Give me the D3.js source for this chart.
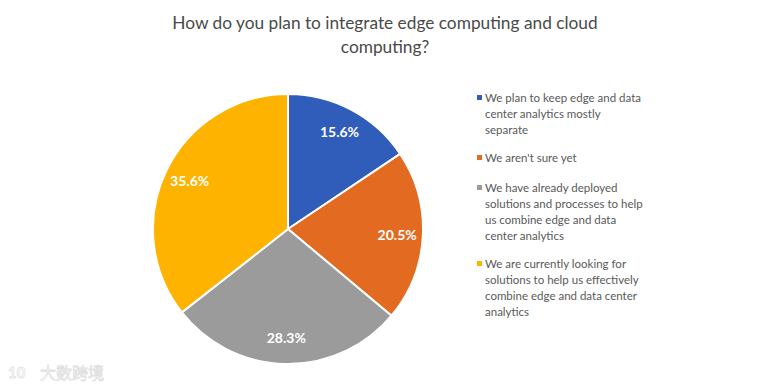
<!DOCTYPE html>
<html lang="en">
<head>
    <meta charset="UTF-8">
    <title>Edge and cloud computing</title>
    <style>
        body { margin: 0; background: #fff; }
        text { font-family: Lato, "Open Sans", sans-serif; }
    </style>
</head>
<body>
    <div id='chart'></div>

    <script src='https://cdnjs.cloudflare.com/ajax/libs/d3/7.8.5/d3.min.js'></script>
    <script type='text/javascript'>
        const categories = [
            'We plan to keep edge and data center analytics mostly separate',
            "We aren't sure yet",
            'We have already deployed solutions and processes to help us combine edge and data center analytics',
            'We are currently looking for solutions to help us effectively combine edge and data center analytics'
        ];
        const values = [15.6, 20.5, 28.3, 35.6];
        // legend text as wrapped in the original
        const legendLines = [
            ['We plan to keep edge and data', 'center analytics mostly', 'separate'],
            ["We aren't sure yet"],
            ['We have already deployed', 'solutions and processes to help', 'us combine edge and data', 'center analytics'],
            ['We are currently looking for', 'solutions to help us effectively', 'combine edge and data center', 'analytics']
        ];
        const titleLines = ['How do you plan to integrate edge computing and cloud', 'computing?'];
        const colors = ['#2F5DB9', '#E36B21', '#9B9B9B', '#FDB300'];

        const width = 770;
        const height = 385;
        const cx = 288, cy = 229, radius = 135;

        let svg = d3.select('#chart')
                    .append('svg')
                      .attr('width', width)
                      .attr('height', height);

        // title
        svg.append('g')
            .selectAll('text')
            .data(titleLines)
            .enter()
          .append('text')
            .attr('x', 385)
            .attr('y', (d, i) => 29 + i * 24)
            .attr('text-anchor', 'middle')
            .style('font-size', '17.3px')
            .style('fill', '#4a4a4a')
            .text(d => d);

        let color = d3.scaleOrdinal().domain(d3.range(values.length)).range(colors);

        let pie = d3.pie().sort(null).value(d => d);
        let arc = d3.arc().innerRadius(0).outerRadius(radius);
        let labelArc = d3.arc().innerRadius(radius * 0.81).outerRadius(radius * 0.81);

        let viz = svg.append('g')
                      .attr('transform', `translate(${cx}, ${cy})`);

        let slices = viz.selectAll('g.slice')
                        .data(pie(values))
                        .enter()
                      .append('g')
                        .attr('class', 'slice');

        slices.append('path')
              .attr('d', arc)
              .attr('fill', (d, i) => color(i))
              .attr('stroke', '#fff')
              .attr('stroke-width', 2);

        slices.append('text')
              .attr('transform', d => `translate(${labelArc.centroid(d)})`)
              .attr('text-anchor', 'middle')
              .attr('dy', '0.35em')
              .style('font-size', '14px')
              .style('font-weight', 'bold')
              .style('fill', '#fff')
              .text(d => d.data.toFixed(1) + '%');

        // legend
        const legendTops = [98, 158, 188, 264];
        let legend = svg.append('g').attr('class', 'legend');
        let items = legend.selectAll('g.item')
                          .data(categories)
                          .enter()
                        .append('g')
                          .attr('class', 'item')
                          .attr('transform', (d, i) => `translate(477, ${legendTops[i]})`);

        items.append('rect')
             .attr('x', 0)
             .attr('y', -3)
             .attr('width', 5)
             .attr('height', 5)
             .attr('fill', (d, i) => color(i));

        items.append('text')
             .style('font-size', '11.5px')
             .style('fill', '#595959')
             .selectAll('tspan')
             .data((d, i) => legendLines[i])
             .enter()
           .append('tspan')
             .attr('x', 8)
             .attr('y', (d, j) => j * 16)
             .attr('dy', '0.35em')
             .text(d => d);

        // watermark
        let wm = svg.append('g').attr('transform', 'translate(8, 373)')
                     .style('opacity', 0.3);
        wm.append('text')
          .attr('x', 0)
          .attr('y', 5)
          .style('font-size', '15px')
          .style('font-weight', 'bold')
          .style('fill', '#fff')
          .style('stroke', '#999')
          .style('stroke-width', 0.8)
          .text('10');
        wm.append('text')
          .attr('x', 32)
          .attr('y', 6)
          .style('font-family', '"Noto Sans CJK SC"')
          .style('font-size', '16px')
          .style('fill', '#fff')
          .style('stroke', '#999')
          .style('stroke-width', 0.8)
          .text('大数跨境');
    </script>
</body>
</html>
